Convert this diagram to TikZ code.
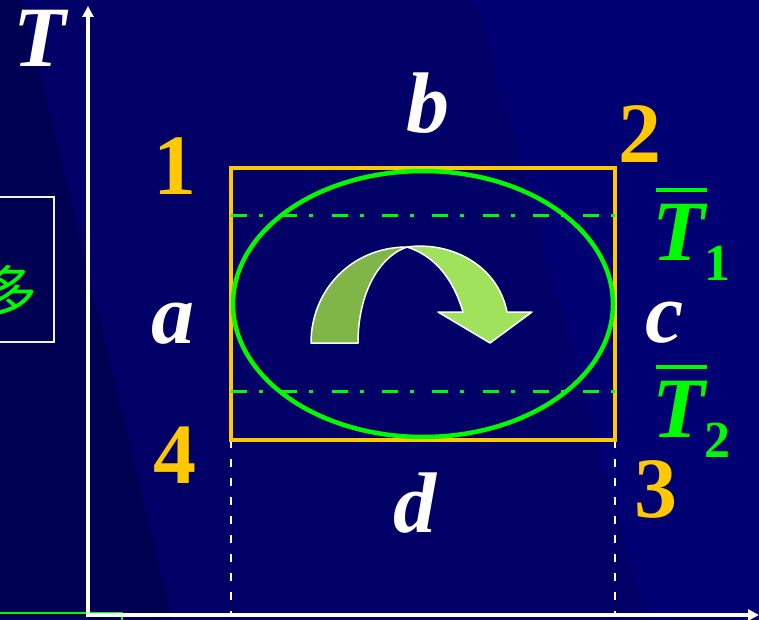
\documentclass[tikz,border=0pt]{standalone}
\usepackage{fontspec}
\setmainfont{Liberation Serif}
\newfontfamily\cjk{Noto Sans CJK SC}
\usetikzlibrary{arrows.meta}

\definecolor{navy}{RGB}{0,0,102}
\definecolor{navydark}{RGB}{0,0,82}
\definecolor{navylight}{RGB}{0,0,114}
\definecolor{gold}{RGB}{255,200,0}
\definecolor{lime}{RGB}{0,250,0}
\definecolor{arrowback}{RGB}{128,182,72}
\definecolor{arrowfront}{RGB}{160,226,92}

% overlined temperature with subscript
\newcommand\meanT[1]{\makebox[0pt][l]{\hspace{0.04em}\raisebox{0.79em}{\rule{0.6em}{0.047em}}}T\raisebox{-0.24em}{\fontsize{52}{52}\selectfont\bfseries\upshape #1}}

\begin{document}
\begin{tikzpicture}[
  x=1pt, y=-1pt,
  axisline/.style={white, line width=3.5pt, -{Triangle[length=11pt,width=11pt]}},
  letter/.style={anchor=base, inner sep=0pt, white, font=\fontsize{86}{86}\selectfont\bfseries\itshape},
  corner/.style={anchor=base, inner sep=0pt, gold, font=\fontsize{86}{86}\selectfont\bfseries},
  meanlbl/.style={anchor=base west, inner sep=0pt, lime, font=\fontsize{86}{86}\selectfont\bfseries\itshape},
  loopbox/.style={gold, line width=4.5pt},
  guideline/.style={white, line width=2pt, dash pattern=on 8pt off 11pt},
  levelline/.style={lime, line width=3pt, dash pattern=on 16pt off 12pt on 4pt off 18.3pt},
  arrowedge/.style={draw=white, line width=1.5pt, line join=round},
]
\useasboundingbox (0,0) rectangle (759,620);
\clip (0,0) rectangle (759,620);

% background
\fill[navy] (0,0) rectangle (759,620);
\fill[navydark] (0,0) -- (22,0) -- (172,620) -- (0,620) -- cycle;
\fill[navylight] (476,0) -- (759,0) -- (759,620) -- (647,620) -- cycle;

% part of the left picture
\draw[white!90!gray, line width=2pt] (-10,197) rectangle (54,342);
\node[lime, font=\cjk\fontsize{56}{56}\selectfont, inner sep=0pt] (duo) at (10,291) {多};
\draw[lime, line width=2pt] (0,612.5) -- (123,612.5);
\draw[lime, line width=2pt] (122,612) -- (122,620);

% axes
\coordinate (O) at (88,615);
\draw[axisline] (O) -- (88,6);
\draw[axisline] (86,615) -- (759,615);

% corners of the cycle
\coordinate (p1) at (231,168);
\coordinate (p2) at (615,168);
\coordinate (p3) at (615,440);
\coordinate (p4) at (231,440);
\coordinate (mid) at (423,304);

% guides down to the axis
\draw[guideline] (p4) -- (p4 |- O);
\draw[guideline] (p3) -- (p3 |- O);

% cycle and ellipse
\draw[loopbox] (p1) rectangle (p3);
\draw[lime, line width=4.5pt] (mid) ellipse [x radius=190pt, y radius=133pt];

% mean temperature levels
\draw[levelline] (231,215.5) -- (615,215.5);
\draw[levelline] (231,391) -- (615,391);

% curved arrow
\fill[arrowback, arrowedge] (311,343) .. controls (311,290) and (352,247) .. (407,247)
  .. controls (380,256) and (358,292) .. (358,343) -- cycle;
\fill[arrowfront, arrowedge] (407,247) .. controls (452,241) and (498,266) .. (507,312)
  -- (532,312) -- (490,343) -- (438,312) -- (463,312)
  .. controls (452,275) and (432,255) .. (407,247) -- cycle;

% labels
\node[letter] (T) at (40,67) {T};
\node[letter] (b) at (428,133) {b};
\node[letter] (a) at (173,343) {a};
\node[letter] (c) at (665,342) {c};
\node[letter] (d) at (415,532) {d};
\node[corner] (n1) at (175,195) {1};
\node[corner] (n2) at (640,163) {2};
\node[corner] (n3) at (656,517) {3};
\node[corner] (n4) at (175,483) {4};
\node[meanlbl] (T1) at (652,260) {\meanT{1}};
\node[meanlbl] (T2) at (652,437) {\meanT{2}};

\end{tikzpicture}
\end{document}
